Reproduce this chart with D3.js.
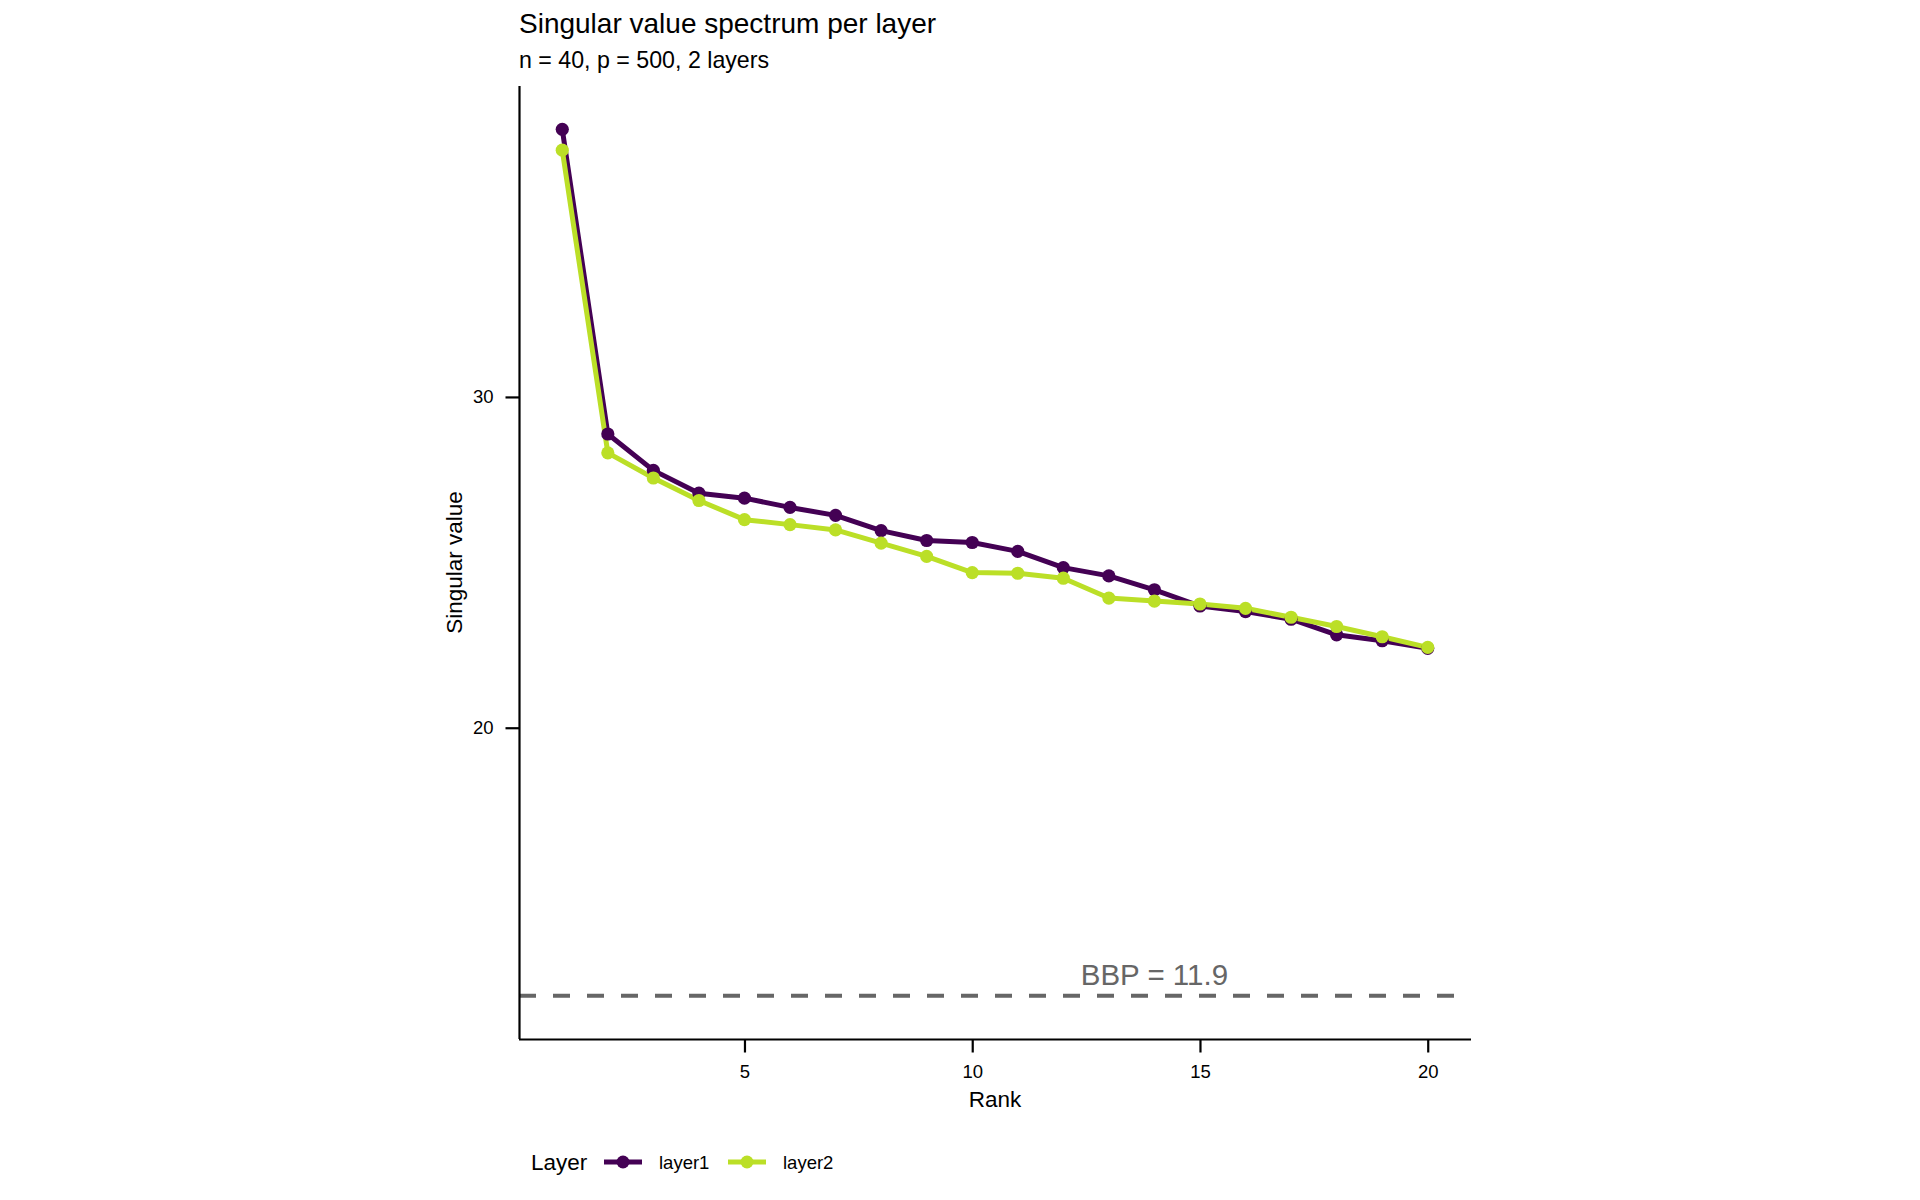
<!DOCTYPE html>
<html>
<head>
<meta charset="utf-8">
<script src="https://cdn.jsdelivr.net/npm/d3@7"></script>
<style>
  html, body { margin: 0; padding: 0; background: #fff; }
  svg { display: block; font-family: "Liberation Sans", Arial, Helvetica, sans-serif; }
</style>
</head>
<body>
<svg id="chart" width="1920" height="1200"></svg>
<script>
// ---- data ----
const ranks = [1,2,3,4,5,6,7,8,9,10,11,12,13,14,15,16,17,18,19,20];
const layer1 = [38.09,28.88,27.78,27.09,26.94,26.66,26.42,25.96,25.66,25.60,25.33,24.84,24.59,24.17,23.68,23.51,23.28,22.81,22.63,22.40];
const layer2 = [37.46,28.31,27.55,26.87,26.29,26.14,25.98,25.58,25.18,24.69,24.67,24.52,23.92,23.83,23.74,23.61,23.34,23.06,22.75,22.43];
const seriesNames = ["layer1", "layer2"];
const seriesColors = ["#440154", "#BBDF27"];
const bbp = 11.9;
const bbpLabelRank = 14;
const xTicks = [5, 10, 15, 20];
const yTicks = [20, 30];
const titleText = "Singular value spectrum per layer";
const subtitleText = "n = 40, p = 500, 2 layers";

// ---- layout ----
const svg = d3.select("#chart");
const panel = { left: 519, right: 1471, top: 86, bottom: 1039 };

const xExt = d3.extent(ranks);
const xPad = (xExt[1] - xExt[0]) * 0.05;
const x = d3.scaleLinear().domain([xExt[0] - xPad, xExt[1] + xPad]).range([panel.left, panel.right]);

const allY = layer1.concat(layer2, [bbp]);
const yExt = d3.extent(allY);
const yPad = (yExt[1] - yExt[0]) * 0.05;
const y = d3.scaleLinear().domain([yExt[0] - yPad, yExt[1] + yPad]).range([panel.bottom, panel.top]);

// ---- title ----
svg.append("text").attr("x", 519).attr("y", 33).attr("font-size", 28).attr("fill", "#000").text(titleText);
svg.append("text").attr("x", 519).attr("y", 68).attr("font-size", 23.2).attr("fill", "#000").text(subtitleText);

// ---- BBP reference ----
svg.append("line")
  .attr("x1", panel.left).attr("x2", panel.right)
  .attr("y1", y(bbp)).attr("y2", y(bbp))
  .attr("stroke", "#666666").attr("stroke-width", 4)
  .attr("stroke-dasharray", "17,17");
svg.append("text")
  .attr("x", x(bbpLabelRank)).attr("y", y(bbp) - 11)
  .attr("text-anchor", "middle").attr("font-size", 29.5).attr("fill", "#666666")
  .text("BBP = " + bbp.toFixed(1));

// ---- series ----
const series = seriesNames.map((name, i) => ({
  name, color: seriesColors[i],
  values: ranks.map((r, j) => ({ r, v: (i === 0 ? layer1 : layer2)[j] }))
}));
const line = d3.line().x(d => x(d.r)).y(d => y(d.v));
svg.append("g").selectAll("path").data(series).join("path")
  .attr("d", d => line(d.values))
  .attr("fill", "none").attr("stroke", d => d.color)
  .attr("stroke-width", 5).attr("stroke-linejoin", "round").attr("stroke-linecap", "butt");
series.forEach(s => {
  svg.append("g").selectAll("circle").data(s.values).join("circle")
    .attr("cx", d => x(d.r)).attr("cy", d => y(d.v)).attr("r", 6.6)
    .attr("fill", s.color);
});

// ---- axes ----
const xAxis = d3.axisBottom(x).tickValues(xTicks).tickSize(13.5).tickPadding(12).tickFormat(d3.format("d"));
const gx = svg.append("g").attr("transform", `translate(0,${panel.bottom})`).call(xAxis);
const yAxis = d3.axisLeft(y).tickValues(yTicks).tickSize(13.5).tickPadding(12).tickFormat(d3.format("d"));
const gy = svg.append("g").attr("transform", `translate(${panel.left},0)`).call(yAxis);
[gx, gy].forEach(g => {
  g.select(".domain").attr("stroke", "#000").attr("stroke-width", 2.2);
  g.selectAll(".tick line").attr("stroke", "#000").attr("stroke-width", 2.2);
  g.selectAll(".tick text").attr("fill", "#000").attr("font-size", 18.5)
    .attr("font-family", "Liberation Sans, Arial, sans-serif");
});
gx.select(".domain").attr("d", `M${panel.left},0.5H${panel.right}`);
gy.select(".domain").attr("d", `M0.5,${panel.bottom}V${panel.top}`);

// axis titles
svg.append("text").attr("x", (panel.left + panel.right) / 2).attr("y", 1106.5)
  .attr("text-anchor", "middle").attr("font-size", 22.5).attr("fill", "#000").text("Rank");
svg.append("text")
  .attr("transform", `translate(462,${(panel.top + panel.bottom) / 2}) rotate(-90)`)
  .attr("text-anchor", "middle").attr("font-size", 22.5).attr("fill", "#000").text("Singular value");

// ---- legend ----
const lg = svg.append("g");
const legY = 1162;
lg.append("text").attr("x", 531).attr("y", legY + 8).attr("font-size", 22.5).attr("fill", "#000").text("Layer");
const keyX = [604, 728];
series.forEach((s, i) => {
  lg.append("line").attr("x1", keyX[i]).attr("x2", keyX[i] + 38).attr("y1", legY).attr("y2", legY)
    .attr("stroke", s.color).attr("stroke-width", 5);
  lg.append("circle").attr("cx", keyX[i] + 19).attr("cy", legY).attr("r", 6.5).attr("fill", s.color);
  lg.append("text").attr("x", keyX[i] + 55).attr("y", legY + 6.5).attr("font-size", 18.5).attr("fill", "#000").text(s.name);
});
</script>
</body>
</html>
